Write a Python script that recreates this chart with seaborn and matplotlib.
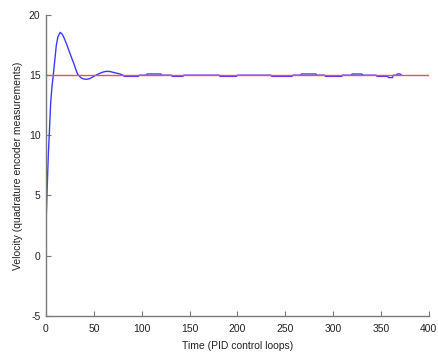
import matplotlib
matplotlib.use("Agg")
import matplotlib.pyplot as plt
import seaborn as sns
import pandas as pd

time = [0, 0.2, 0.6, 1.4, 2.5, 3.5, 4.9, 6.2, 7.6, 9.4, 10.8, 12.5, 14.9, 17.0,
        19.1, 21.7, 24.4, 27.0, 29.6, 31.5, 33.1, 36.6, 39.5, 42.5, 46.0, 51.0,
        56.4, 60.0, 63.4, 67.0, 72.0, 77.3, 80.5, 81.8, 96.4, 97.5, 104.5, 105.8,
        120.0, 121.0, 131.0, 132.0, 143.0, 144.0, 181.0, 182.0, 199.0, 200.0,
        235.0, 236.0, 257.0, 258.0, 266.0, 267.0, 282.0, 283.0, 291.0, 292.0,
        309.0, 310.0, 319.0, 320.0, 330.0, 331.0, 345.0, 346.0, 357.0, 358.0,
        362.0, 363.0, 366.5, 367.0, 370.0, 371.0, 372.0]
velocity = [-1.0, 3.0, 4.0, 6.0, 8.5, 10.2, 12.7, 14.0, 15.0, 16.4, 17.5, 18.2, 18.56, 18.4,
            18.06, 17.55, 16.95, 16.4, 15.85, 15.4, 15.07, 14.78, 14.68, 14.66, 14.72, 14.95,
            15.16, 15.27, 15.32, 15.3, 15.2, 15.1, 15.0, 14.9, 14.9, 15.0, 15.0, 15.1,
            15.1, 15.0, 15.0, 14.9, 14.9, 15.0, 15.0, 14.9, 14.9, 15.0,
            15.0, 14.9, 14.9, 15.0, 15.0, 15.1, 15.1, 15.0, 15.0, 14.9,
            14.9, 15.0, 15.0, 15.1, 15.1, 15.0, 15.0, 14.9, 14.9, 14.8,
            14.8, 15.0, 15.0, 15.1, 15.1, 15.0, 15.0]

# Setpoint
setpoint_time = [0, 400]
setpoint_value = [15, 15]

x_ticks = [0, 50, 100, 150, 200, 250, 300, 350, 400]
y_ticks = [-5, 0, 5, 10, 15, 20]

sns.set_theme(style="ticks")
plt.rcParams['font.family'] = ['Liberation Sans', 'DejaVu Sans']
plt.rcParams['axes.unicode_minus'] = False

fig = plt.figure(figsize=(4.38, 3.58), dpi=100)
ax = fig.add_axes([0.105, 0.118, 0.874, 0.840])

df = pd.DataFrame({"t": time, "v": velocity})
sp = pd.DataFrame({"t": setpoint_time, "v": setpoint_value})
sns.lineplot(data=df, x="t", y="v", ax=ax, color="#3a3aff", linewidth=1.0,
             estimator=None, sort=False)
sns.lineplot(data=sp, x="t", y="v", ax=ax, color="#ff4a4a", linewidth=1.0,
             estimator=None, sort=False)
ax.lines[0].set_zorder(2)
ax.lines[1].set_zorder(3)

ax.set_xlim(0, 400)
ax.set_ylim(-5, 20)
ax.set_xticks(x_ticks)
ax.set_yticks(y_ticks)
ax.set_xlabel("Time (PID control loops)", fontsize=7.5, color="#222222", labelpad=5)
ax.set_ylabel("Velocity (quadrature encoder measurements)", fontsize=7.5, color="#222222", labelpad=4)
ax.tick_params(direction="in", length=3.5, width=0.8, colors="#7a7a7a",
               labelcolor="#222222", labelsize=7.5)
ax.tick_params(axis="x", pad=6)
ax.tick_params(axis="y", pad=4)
for s in ["top", "right"]:
    ax.spines[s].set_visible(False)
for s in ["left", "bottom"]:
    ax.spines[s].set_color("#7a7a7a")
    ax.spines[s].set_linewidth(1.0)

fig.savefig("out.png", dpi=100)
